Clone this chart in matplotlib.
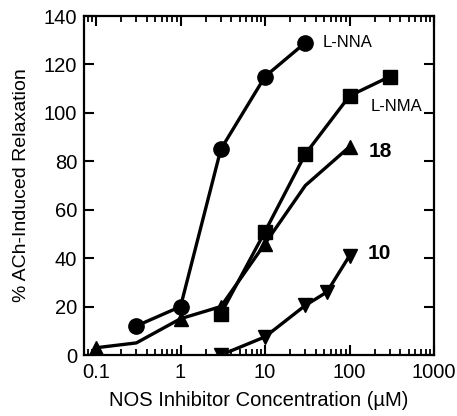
import matplotlib
matplotlib.use("Agg")
import matplotlib.pyplot as plt
from matplotlib.ticker import LogLocator, NullFormatter, FixedLocator

plt.rcParams['font.family'] = ['Liberation Sans', 'DejaVu Sans']

# Data
lnna_x = [0.3, 1, 3, 10, 30]
lnna_y = [12, 20, 85, 115, 129]
lnma_x = [3, 10, 30, 100, 300]
lnma_y = [17, 51, 83, 107, 115]
c18_x = [0.1, 0.3, 1, 3, 10, 30, 100]
c18_y = [3, 5, 15, 20, 46, 70, 86]
c18_marked = [0, 2, 3, 4, 6]
c10_x = [3, 10, 30, 54, 100]
c10_y = [0, 7.5, 20.5, 26, 41]

xticks = [0.1, 1, 10, 100, 1000]
xticklabels = ['0.1', '1', '10', '100', '1000']
yticks = [0, 20, 40, 60, 80, 100, 120, 140]

fig = plt.figure(figsize=(4.57, 4.16), dpi=100)
ax = fig.add_axes([0.1838, 0.1466, 0.7659, 0.8149])

lw = 2.4
ax.plot(lnna_x, lnna_y, '-', color='black', lw=lw, marker='o', ms=11, zorder=3)
ax.plot(lnma_x, lnma_y, '-', color='black', lw=lw, marker='s', ms=10.5, zorder=3)
ax.plot(c18_x, c18_y, '-', color='black', lw=lw, marker='^', ms=10.5,
        markevery=c18_marked, zorder=3)
ax.plot(c10_x, c10_y, '-', color='black', lw=lw, marker='v', ms=10.5, zorder=3)

ax.set_xscale('log')
ax.set_xlim(0.072, 1000)
ax.set_ylim(0, 140)

ax.xaxis.set_major_locator(FixedLocator(xticks))
ax.set_xticklabels(xticklabels)
ax.xaxis.set_minor_locator(LogLocator(base=10, subs=range(2, 10), numticks=20))
ax.xaxis.set_minor_formatter(NullFormatter())
ax.set_yticks(yticks)

ax.tick_params(axis='both', which='major', direction='in', top=True, right=True,
               width=1.5, labelsize=14.5, color='black')
ax.tick_params(axis='y', which='major', length=7, pad=5)
ax.tick_params(axis='x', which='major', length=7, pad=6)
ax.tick_params(axis='x', which='minor', direction='in', top=True, length=4, width=1.3)
for s in ax.spines.values():
    s.set_linewidth(1.6)

ax.set_xlabel('NOS Inhibitor Concentration (\u00b5M)', fontsize=14.5, labelpad=6)
ax.set_ylabel('% ACh-Induced Relaxation', fontsize=14, labelpad=10)

ax.text(48, 129, 'L-NNA', fontsize=12, va='center', ha='left')
ax.text(178, 102.5, 'L-NMA', fontsize=12, va='center', ha='left')
ax.text(170, 84, '18', fontsize=15, fontweight='bold', va='center', ha='left')
ax.text(166, 42, '10', fontsize=15, fontweight='bold', va='center', ha='left')

fig.savefig('out.png', dpi=100)
